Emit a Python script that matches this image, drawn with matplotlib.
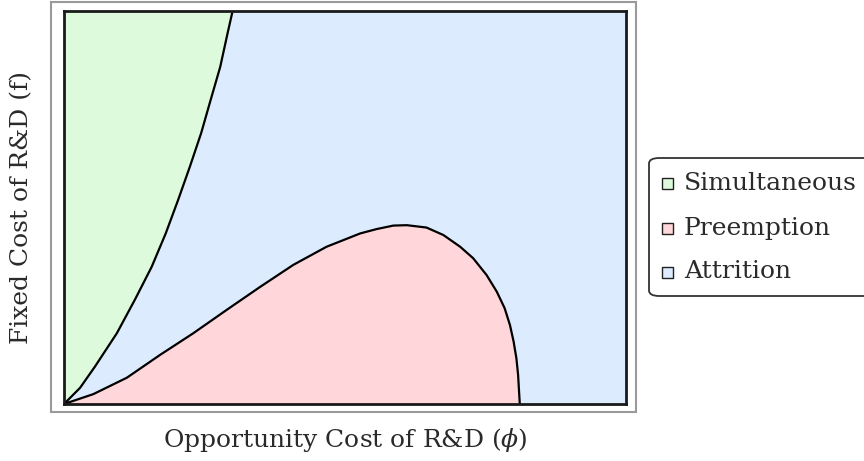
import matplotlib
matplotlib.use("Agg")
import matplotlib.pyplot as plt
from matplotlib.patches import Rectangle, FancyBboxPatch

plt.rcParams['font.family'] = ['DejaVu Serif']
plt.rcParams['mathtext.fontset'] = 'dejavuserif'

# Boundary between the simultaneous and attrition regions (phi, f)
sim_phi = [0.0, 0.0285, 0.055, 0.094, 0.126, 0.156, 0.181, 0.203,
           0.224, 0.244, 0.261, 0.278, 0.291, 0.300]
sim_f = [0.0, 0.041, 0.095, 0.180, 0.265, 0.349, 0.434, 0.519,
         0.604, 0.689, 0.774, 0.858, 0.943, 1.0]

# Upper boundary of the preemption region (phi, f)
pre_phi = [0.0, 0.052, 0.112, 0.171, 0.230, 0.289, 0.349, 0.408, 0.467,
           0.527, 0.556, 0.586, 0.610, 0.645, 0.675, 0.705, 0.728, 0.752,
           0.770, 0.784, 0.7935, 0.800, 0.805, 0.808, 0.811]
pre_f = [0.0, 0.025, 0.067, 0.125, 0.180, 0.239, 0.298, 0.354, 0.400,
         0.434, 0.445, 0.454, 0.455, 0.449, 0.430, 0.400, 0.371, 0.328,
         0.286, 0.244, 0.201, 0.159, 0.116, 0.074, 0.0]

regions = ["Simultaneous", "Preemption", "Attrition"]
colors = {"Simultaneous": "#ddfadd", "Preemption": "#ffd7da", "Attrition": "#dcecfe"}

fig = plt.figure(figsize=(8.64, 4.61), dpi=100)
ax = fig.add_axes([64 / 864, 57 / 461, 562 / 864, 393 / 461])
ax.set_xlim(0, 1)
ax.set_ylim(0, 1)
ax.set_facecolor(colors["Attrition"])

# Simultaneous region: left of its boundary
ax.fill(sim_phi + [0.0], sim_f + [1.0], color=colors["Simultaneous"], lw=0)
# Preemption region: under its boundary
ax.fill(pre_phi, pre_f, color=colors["Preemption"], lw=0)

ax.plot(sim_phi, sim_f, color="black", lw=1.6, solid_joinstyle="round")
ax.plot(pre_phi, pre_f, color="black", lw=1.6, solid_joinstyle="round")

ax.set_xticks([])
ax.set_yticks([])
for sp in ax.spines.values():
    sp.set_linewidth(2.0)
    sp.set_color("#1a1a1a")

# Outer gray frame
fig.patches.append(Rectangle((51 / 864, 49 / 461), 585 / 864, 410 / 461,
                             transform=fig.transFigure, fill=False,
                             edgecolor="#9a9a9a", lw=1.5))

fig.text(345 / 864, 1 - 440 / 461, r"Opportunity Cost of R&D ($\phi$)",
         ha="center", va="center", fontsize=18, color="#2a2a2a")
fig.text(22 / 864, 1 - 207 / 461, "Fixed Cost of R&D (f)",
         ha="center", va="center", rotation=90, fontsize=18, color="#2a2a2a")

# Legend box
fig.patches.append(FancyBboxPatch((649 / 864, 1 - 296 / 461), 260 / 864, 138 / 461,
                                  boxstyle="round,pad=0,rounding_size=0.012",
                                  transform=fig.transFigure, facecolor="white",
                                  edgecolor="#333333", lw=1.3, clip_on=False))
rows_y = [183, 228, 272]
for name, yy in zip(regions, rows_y):
    fig.patches.append(Rectangle((662 / 864, 1 - (yy + 6) / 461), 11 / 864, 11 / 461,
                                 transform=fig.transFigure, facecolor=colors[name],
                                 edgecolor="#222222", lw=1.0))
    fig.text(684 / 864, 1 - yy / 461, name, ha="left", va="center",
             fontsize=18, color="#2a2a2a")

fig.savefig("out.png", dpi=100)
